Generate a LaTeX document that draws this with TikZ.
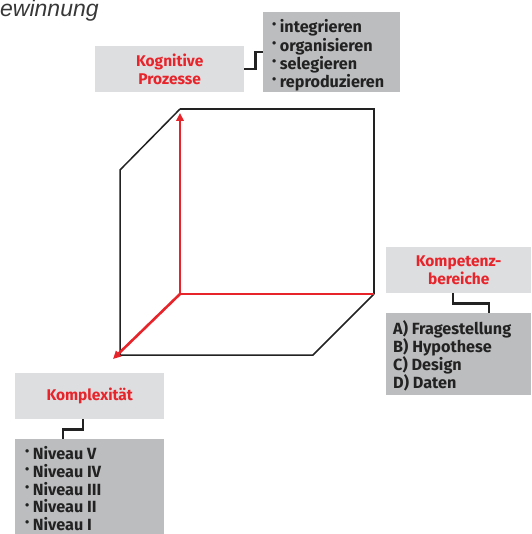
\documentclass[tikz,border=0pt]{standalone}
\usepackage{fontspec}
\setmainfont{Fira Sans}
\newfontfamily\titlefont{Liberation Sans}
\usetikzlibrary{arrows.meta}
\definecolor{kred}{HTML}{E8242B}
\definecolor{lgray}{HTML}{DDDEE0}
\definecolor{dgray}{HTML}{BCBDBF}
\definecolor{ink}{HTML}{222222}
\newcommand{\bul}{\raisebox{0.45ex}{\scalebox{0.75}{\textbullet}}\hspace{3.5pt}}
\tikzset{
  headbox/.style={fill=lgray, draw=none, anchor=north west, inner sep=0pt, align=center,
    text=kred, font=\bfseries\fontsize{15.5}{18.5}\selectfont},
  listbox/.style={fill=dgray, draw=none, anchor=north west, inner sep=0pt},
  listtext/.style={anchor=north west, inner sep=0pt, align=left,
    text=ink, font=\bfseries\fontsize{16.2}{18.2}\selectfont},
  conn/.style={draw=ink, line width=2.2pt},
  edge/.style={draw=ink, line width=1.5pt, line join=miter},
  axis/.style={draw=kred, line width=2.6pt},
  axarrow/.style={axis, -{Triangle[length=8pt,width=7.5pt]}}
}
\begin{document}
\begin{tikzpicture}[x=1pt,y=-1pt]
\useasboundingbox (0,0) rectangle (531,534);
% title fragment
\node[anchor=base west, inner sep=0pt, text=ink!90, font=\titlefont\itshape\fontsize{23}{23}\selectfont] (title) at (0,17) {ewinnung};
% Kognitive Prozesse
\node[headbox, minimum width=149pt, minimum height=46pt] (kp) at (95,46) {Kognitive\\Prozesse};
\node[listbox, minimum width=137pt, minimum height=80pt] (kl) at (263,12) {};
\node[listtext] (klt) at ([xshift=9pt,yshift=-7.5pt]kl.north west)
  {\bul integrieren\\\bul organisieren\\\bul selegieren\\\bul reproduzieren};
\draw[conn] (kp.east) -- ++(11,0) |- (kl.west);
% Kompetenzbereiche
\node[headbox, minimum width=145pt, minimum height=46pt] (kb) at (386,247) {Kompetenz-\\bereiche};
\node[listbox, minimum width=145pt, minimum height=82pt] (kbl) at (386,313) {};
\node[listtext] (kblt) at ([xshift=7pt,yshift=-7pt]kbl.north west)
  {A) Fragestellung\\B) Hypothese\\C) Design\\D) Daten};
\draw[conn] ([xshift=-6pt]kb.south) -- ++(0,10) -| ([xshift=30pt]kbl.north);
% Komplexitaet
\node[headbox, minimum width=149pt, minimum height=46pt] (kx) at (15,373) {Komplexität};
\node[listbox, minimum width=149pt, minimum height=95pt] (kxl) at (15,439) {};
\node[listtext, font=\bfseries\fontsize{16.2}{17.7}\selectfont] (kxlt) at ([xshift=10pt,yshift=-7.5pt]kxl.north west)
  {\bul Niveau V\\\bul Niveau IV\\\bul Niveau III\\\bul Niveau II\\\bul Niveau I};
\draw[conn] ([xshift=-7pt]kx.south) -- ++(0,10) -| ([xshift=-27pt]kxl.north);
% cube
\coordinate (o) at (180,294);
\coordinate (bt) at (180,109);
\coordinate (btr) at (374,109);
\coordinate (bbr) at (374,294);
\coordinate (ft) at (120,170);
\coordinate (fb) at (120,355);
\coordinate (fbr) at (313,355);
\coordinate (ax) at (113,359);
\draw[edge] (bt) -- (btr) -- (bbr);
\draw[edge] (bt) -- (ft) -- (fb) -- (fbr) -- (bbr);
\draw[axis] (o) -- (bbr);
\draw[axarrow] (o) -- ([yshift=-4pt]bt);
\draw[axarrow] (o) -- (ax);
\end{tikzpicture}
\end{document}
